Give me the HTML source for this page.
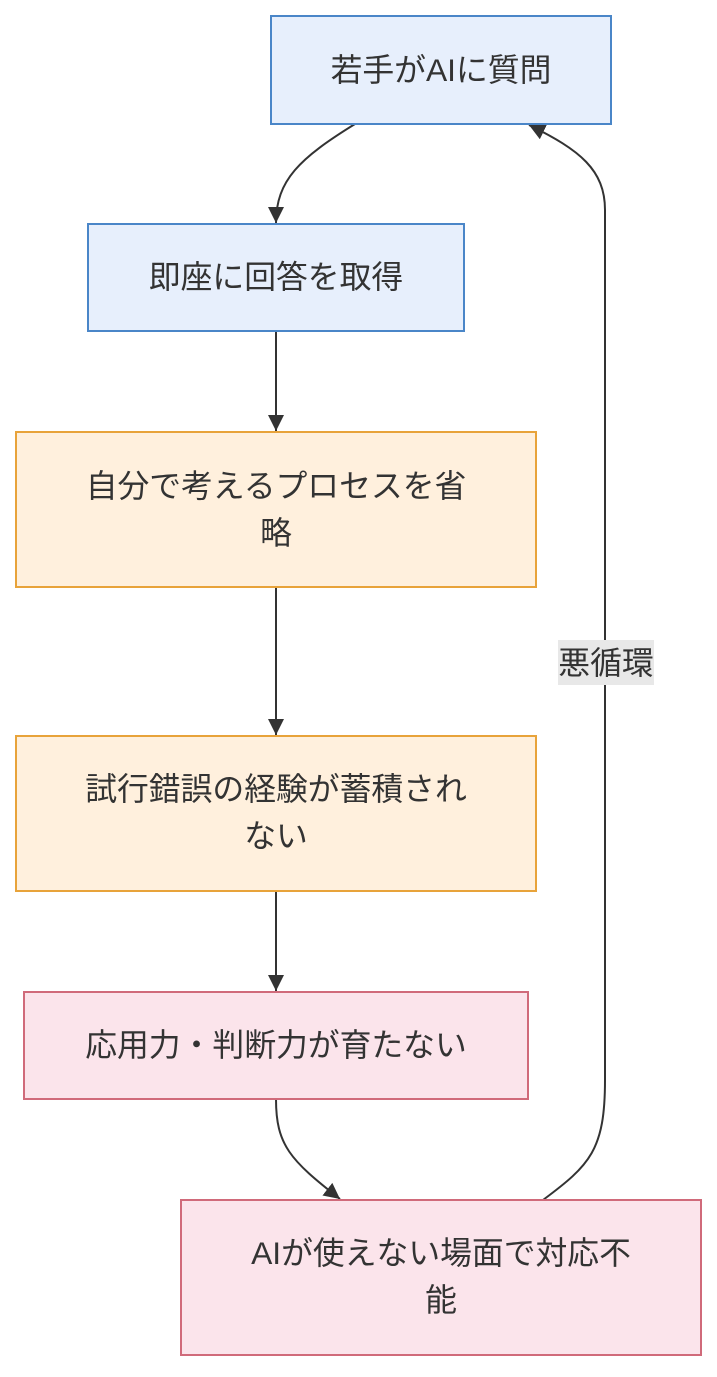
<!DOCTYPE html>
<html><head><meta charset="utf-8"><style>
body{margin:0;background:#fff;}
svg text{font-family:"Liberation Sans","Noto Sans CJK JP",sans-serif;font-size:31.8px;fill:#333;text-anchor:middle;}
</style></head><body>
<svg width="717" height="1372" xmlns="http://www.w3.org/2000/svg">
<defs>
<marker id="b" markerWidth="18" markerHeight="18" refX="16" refY="8" orient="auto" markerUnits="userSpaceOnUse"><path d="M0,0 L16,8 L0,16 z" fill="#333"/></marker></defs>
<g fill="none" stroke="#333" stroke-width="2">
<path d="M355,124 C300,158 276,180 276,223" marker-end="url(#b)"/>
<path d="M276,331 L276,431" marker-end="url(#b)"/>
<path d="M276,587 L276,735" marker-end="url(#b)"/>
<path d="M276,891 L276,991" marker-end="url(#b)"/>
<path d="M276,1099 C276,1145 290,1160 340,1199" marker-end="url(#b)"/>
<path d="M543,1200 C590,1165 605,1150 605,1080 L605,210 C605,170 580,150 529,125" marker-end="url(#b)"/>
</g>
<rect x="271" y="16" width="340" height="108" fill="#e7effc" stroke="#4a86c8" stroke-width="2"/>
<text x="441" y="81">若手がAIに質問</text>
<rect x="88" y="224" width="376" height="107" fill="#e7effc" stroke="#4a86c8" stroke-width="2"/>
<text x="276" y="288">即座に回答を取得</text>
<rect x="16" y="432" width="520" height="155" fill="#fff0dd" stroke="#e8a33a" stroke-width="2"/>
<text x="276" y="497">自分で考えるプロセスを省</text>
<text x="276" y="544">略</text>
<rect x="16" y="736" width="520" height="155" fill="#fff0dd" stroke="#e8a33a" stroke-width="2"/>
<text x="276" y="800">試行錯誤の経験が蓄積され</text>
<text x="276" y="847">ない</text>
<rect x="24" y="992" width="504" height="107" fill="#fbe4eb" stroke="#d06a7a" stroke-width="2"/>
<text x="276" y="1056">応用力・判断力が育たない</text>
<rect x="181" y="1200" width="520" height="155" fill="#fbe4eb" stroke="#d06a7a" stroke-width="2"/>
<text x="441" y="1264">AIが使えない場面で対応不</text>
<text x="441" y="1311">能</text>
<rect x="558" y="640" width="96" height="45" fill="#e8e8e8"/>
<text x="606" y="674">悪循環</text>
</svg>
</body></html>
